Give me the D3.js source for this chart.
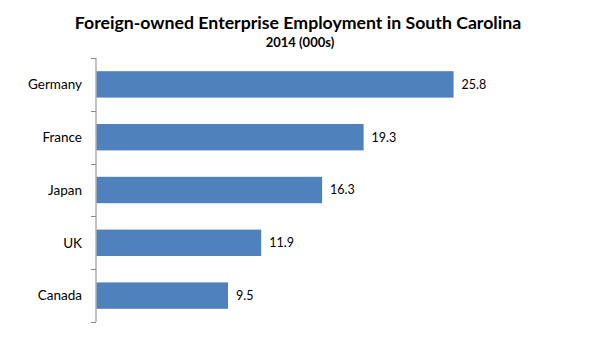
<!DOCTYPE html>
<html><head><meta charset="utf-8">
<script src="https://cdn.jsdelivr.net/npm/d3@7"></script>
<style>body{margin:0;background:#fff}svg{display:block}</style>
</head><body>
<svg id="c" width="600" height="339"></svg>
<script>
const categories = ["Germany", "France", "Japan", "UK", "Canada"];
const values = [25.8, 19.3, 16.3, 11.9, 9.5];
const title = "Foreign-owned Enterprise Employment in South Carolina";
const subtitle = "2014 (000s)";

const svg = d3.select("#c");
const font = "Lato, 'Open Sans', sans-serif";
const x = d3.scaleLinear().domain([0, 30]).range([96.5, 511.7]);
const y = d3.scaleBand().domain(categories).range([58, 322]).paddingInner(0.5).paddingOuter(0.25);

svg.append("text").attr("x", 298).attr("y", 29).attr("text-anchor", "middle")
  .attr("font-family", font).attr("font-weight", "bold").attr("font-size", 17.7).attr("fill", "#000").text(title);
svg.append("text").attr("x", 300).attr("y", 47).attr("text-anchor", "middle")
  .attr("font-family", font).attr("font-weight", "bold").attr("font-size", 13).attr("fill", "#000").text(subtitle);

svg.append("g").selectAll("rect").data(categories).join("rect")
  .attr("x", x(0)).attr("y", d => y(d))
  .attr("width", (d, i) => x(values[i]) - x(0)).attr("height", y.bandwidth())
  .attr("fill", "#4F81BD");

svg.append("g").selectAll("text").data(categories).join("text")
  .attr("x", (d, i) => x(values[i]) + 8).attr("y", d => y(d) + y.bandwidth() / 2)
  .attr("dy", "0.35em").attr("font-family", font).attr("font-size", 12.5).attr("fill", "#000")
  .text((d, i) => values[i].toFixed(1));

// axis
const axisG = svg.append("g").attr("transform", `translate(${x(0) - 0.5},0)`);
const tickPos = d3.range(categories.length + 1).map(i => 58 + i * (264 / categories.length));
axisG.append("line").attr("x1", 0).attr("x2", 0).attr("y1", 58).attr("y2", 322).attr("stroke", "#888");
axisG.selectAll("line.t").data(tickPos).join("line").attr("class", "t")
  .attr("x1", -5).attr("x2", 0).attr("y1", d => Math.round(d) + 0.5).attr("y2", d => Math.round(d) + 0.5).attr("stroke", "#888");
axisG.selectAll("text").data(categories).join("text")
  .attr("x", -14).attr("y", d => y(d) + y.bandwidth() / 2).attr("dy", "0.35em")
  .attr("text-anchor", "end").attr("font-family", font).attr("font-size", 13.5).attr("fill", "#000").text(d => d);
</script>
</body></html>
